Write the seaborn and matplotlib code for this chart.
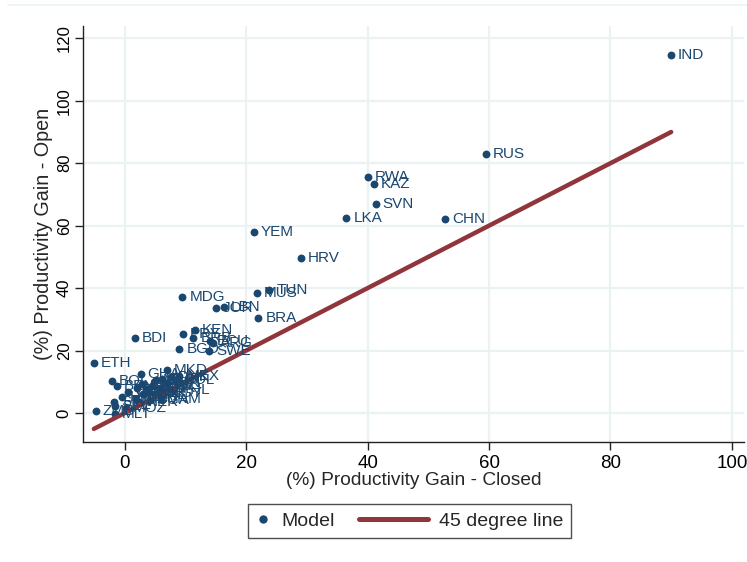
import numpy as np
import pandas as pd
import matplotlib
matplotlib.use("Agg")
import matplotlib.pyplot as plt
from matplotlib.lines import Line2D
from matplotlib.legend_handler import HandlerLine2D
import seaborn as sns

# data
countries = ["IND", "RUS", "RWA", "KAZ", "SVN", "LKA", "CHN", "YEM", "HRV", "TUN",
             "MUS", "MDG", "JOR", "LBN", "BRA", "KEN", "PRY", "BRB", "ARG", "ECU",
             "BGD", "SWE", "BDI", "ETH", "BOL", "BEN", "GHA", "MKD", "CMR", "CIV",
             "GTM", "SEN", "SLV", "ZMB", "HND", "NIC", "MAR", "TUR", "DNK", "ESP",
             "NER", "IRL", "MLT", "KHM", "PAK", "EGY", "TZA", "IDN", "PHL", "UGA",
             "VNM", "MWI", "MOZ", "COL", "MEX"]
gain_closed = [90.0, 59.5, 40.0, 41.0, 41.3, 36.5, 52.8, 21.3, 29.0, 23.8,
               21.8, 9.5, 15.0, 16.3, 22.0, 11.5, 9.6, 11.3, 14.6, 14.0,
               9.0, 13.9, 1.7, -5.1, -2.1, -1.3, 2.6, 6.9, 0.6, 2.9,
               3.5, -1.7, -1.6, -4.8, -0.4, 1.8, 5.1, 6.2, 7.6, 4.0,
               2.4, 5.1, -1.6, 4.5, 5.8, 6.5, 3.0, 7.0, 8.0, 4.2,
               6.0, 2.0, 0.2, 8.5, 9.0]
gain_open = [114.8, 82.8, 75.6, 73.2, 66.8, 62.3, 62.0, 57.9, 49.8, 39.3,
             38.5, 37.2, 33.7, 33.9, 30.3, 26.5, 25.3, 24.0, 22.3, 23.0,
             20.4, 19.8, 24.0, 16.0, 10.3, 8.7, 12.6, 13.9, 6.7, 9.4,
             7.8, 3.5, 2.1, 0.6, 5.1, 4.6, 10.5, 11.0, 11.5, 6.7,
             3.5, 5.7, -0.4, 8.5, 8.0, 6.5, 6.0, 9.5, 7.5, 4.0,
             4.5, 8.0, 1.5, 10.5, 12.0]

x_ticks = [0, 20, 40, 60, 80, 100]
y_ticks = [0, 20, 40, 60, 80, 100, 120]

navy = "#1a476f"
maroon = "#90353b"
grid_col = "#eaf2f3"


class LongLineHandler(HandlerLine2D):
    """Draw the legend line longer than the handle box, reaching to the left."""

    def __init__(self, extra, **kw):
        super().__init__(**kw)
        self.extra = extra

    def create_artists(self, legend, orig_handle, xdescent, ydescent, width,
                       height, fontsize, trans):
        artists = super().create_artists(legend, orig_handle, xdescent, ydescent,
                                         width, height, fontsize, trans)
        for a in artists:
            xd = np.asarray(a.get_xdata(), dtype=float)
            a.set_xdata(np.linspace(xd[-1] - self.extra, xd[-1], len(xd)))
        return artists


df = pd.DataFrame({"country": countries, "closed": gain_closed, "open": gain_open})
line_df = pd.DataFrame({"x": [df["closed"].min(), df["closed"].max()]})
line_df["y"] = line_df["x"]

sns.set_theme(style="white")
plt.rcParams["font.family"] = ["Liberation Sans", "DejaVu Sans"]

fig = plt.figure(figsize=(7.47, 5.62), dpi=100)
ax = fig.add_axes([0.111, 0.2135, 0.885, 0.7405])

for t in x_ticks:
    ax.axvline(t, color=grid_col, lw=1.6, zorder=0)
for t in y_ticks:
    ax.axhline(t, color=grid_col, lw=1.6, zorder=0)

sns.scatterplot(data=df, x="closed", y="open", ax=ax, color=navy, s=32,
                edgecolor=navy, linewidth=0, zorder=3, legend=False)
sns.lineplot(data=line_df, x="x", y="y", ax=ax, color=maroon, lw=3.2,
             zorder=4, legend=False)

for _, r in df.iterrows():
    ax.annotate(r["country"], (r["closed"], r["open"]), xytext=(5, 0),
                textcoords="offset points", va="center", ha="left",
                fontsize=11, color=navy, zorder=5)

ax.set_xlim(-6.9, 102)
ax.set_ylim(-9.3, 124)
ax.set_xticks(x_ticks)
ax.set_yticks(y_ticks)
ax.set_yticklabels([str(t) for t in y_ticks], rotation=90, va="center")
ax.tick_params(axis="both", direction="out", length=6, width=1, color="#222222",
               labelcolor="black", bottom=True, left=True)
ax.tick_params(axis="x", labelsize=13.5, pad=3)
ax.tick_params(axis="y", labelsize=12, pad=2)

for s in ["top", "right"]:
    ax.spines[s].set_visible(False)
for s in ["left", "bottom"]:
    ax.spines[s].set_color("#222222")
    ax.spines[s].set_linewidth(1.0)

ax.set_xlabel("(%) Productivity Gain - Closed", fontsize=13.8, labelpad=0)
ax.set_ylabel("(%) Productivity Gain - Open", fontsize=14.2, labelpad=3)

model_h = Line2D([], [], marker="o", color=navy, ls="none", markersize=5)
line_h = Line2D([], [], color=maroon, lw=3.6)
leg = fig.legend([model_h, line_h], ["Model", "45 degree line"], loc="center",
                 bbox_to_anchor=(0.548, 0.073), ncol=2, fontsize=14,
                 frameon=True, fancybox=False, edgecolor="#222222",
                 handlelength=0.8, columnspacing=4.0, handletextpad=0.55,
                 borderpad=0.4, borderaxespad=0,
                 handler_map={line_h: LongLineHandler(extra=50)})
leg.get_frame().set_linewidth(1.0)

fig.add_artist(Line2D([8 / 747, 1], [1 - 5 / 562, 1 - 5 / 562],
                      color=grid_col, lw=1.2, transform=fig.transFigure))

fig.savefig("out.png", dpi=100, facecolor="white")
